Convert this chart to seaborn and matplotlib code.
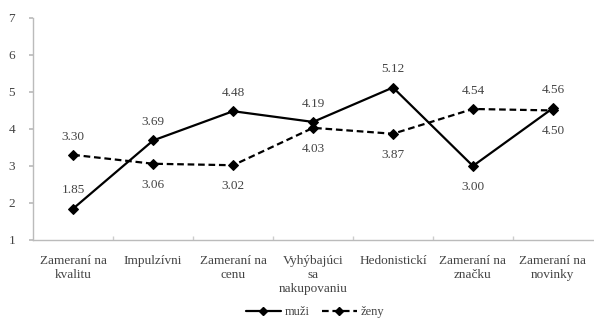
import matplotlib
matplotlib.use("Agg")
import matplotlib.pyplot as plt
import seaborn as sns
import pandas as pd
from matplotlib.lines import Line2D

categories = ["Zameraní na\nkvalitu", "Impulzívni", "Zameraní na\ncenu",
              "Vyhýbajúci\nsa\nnakupovaniu", "Hedonistickí", "Zameraní na\nznačku",
              "Zameraní na\nnovinky"]
muzi = [1.85, 3.69, 4.48, 4.19, 5.12, 3.00, 4.56]
zeny = [3.30, 3.06, 3.02, 4.03, 3.87, 4.54, 4.50]
series_names = ["muži", "ženy"]

# label placement per point: +1 above, -1 below
muzi_pos = [1, 1, 1, 1, 1, -1, 1]
zeny_pos = [1, -1, -1, -1, -1, 1, -1]

sns.set_theme(style="white")
plt.rcParams["font.family"] = ["Liberation Serif", "DejaVu Serif"]

df = pd.DataFrame({
    "kat": list(range(len(categories))) * 2,
    "hodnota": muzi + zeny,
    "pohlavie": [series_names[0]] * len(muzi) + [series_names[1]] * len(zeny),
})

fig, ax = plt.subplots(figsize=(5.94, 3.2), dpi=100)
fig.subplots_adjust(left=0.056, right=0.998, top=0.944, bottom=0.25)

dash = (3.0, 1.7)
sns.lineplot(data=df, x="kat", y="hodnota", hue="pohlavie", style="pohlavie",
             palette=["black", "black"], dashes=[(1, 0), dash],
             markers=["D", "D"], markersize=5.5, linewidth=1.6,
             markeredgecolor="black", legend=False, ax=ax)

txt_color = "#444444"
fs = 9.5
for vals, pos in ((muzi, muzi_pos), (zeny, zeny_pos)):
    for i, (v, p) in enumerate(zip(vals, pos)):
        ax.annotate(f"{v:.2f}", (i, v), xytext=(0, 13 if p > 0 else -15),
                    textcoords="offset points", ha="center", va="center",
                    fontsize=fs, color=txt_color)

ax.set_xlim(-0.5, len(categories) - 0.5)
ax.set_ylim(1, 7)
ax.set_yticks(range(1, 8))
ax.set_xticks(range(len(categories)))
ax.set_xticklabels(categories, fontsize=fs, color=txt_color, linespacing=1.2)
ax.tick_params(axis="y", labelsize=fs, labelcolor=txt_color, left=True,
               length=3, color="#bbbbbb", pad=10)
ax.tick_params(axis="x", bottom=False, pad=5)
# category boundary ticks
ax.set_xticks([i + 0.5 for i in range(len(categories) - 1)], minor=True)
ax.tick_params(axis="x", which="minor", bottom=True, length=3, color="#cccccc",
               direction="in")
ax.set_xlabel("")
ax.set_ylabel("")
for s in ("top", "right"):
    ax.spines[s].set_visible(False)
for s in ("left", "bottom"):
    ax.spines[s].set_color("#bbbbbb")
    ax.spines[s].set_linewidth(1.0)

handles = [
    Line2D([], [], color="black", lw=1.6, marker="D", markersize=4.5),
    Line2D([], [], color="black", lw=1.6, ls=(0, dash), marker="D", markersize=4.5),
]
leg = fig.legend(handles, series_names, loc="center", bbox_to_anchor=(0.53, 0.025),
                 ncol=2, frameon=False, fontsize=9, handlelength=2.8,
                 columnspacing=1.0, handletextpad=0.3)
for t in leg.get_texts():
    t.set_color(txt_color)

fig.savefig("out.png", dpi=100)
